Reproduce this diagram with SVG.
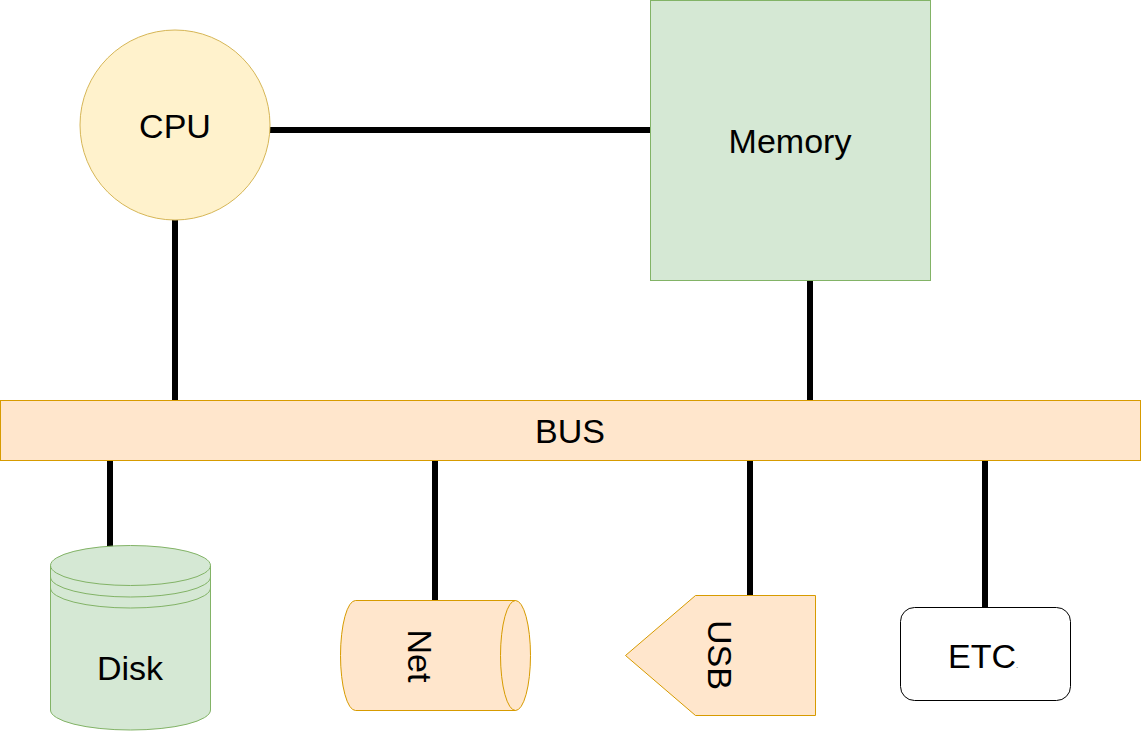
<svg xmlns="http://www.w3.org/2000/svg" width="1141" height="731" viewBox="0 0 1141 731">
<style>
.t{font-family:"Liberation Sans",Arial,sans-serif;font-size:34px;fill:#000;text-anchor:middle}
.c{stroke:#000;stroke-width:6;fill:none}
.g{fill:#d5e8d4;stroke:#82b366;stroke-width:1}
.o{fill:#ffe6cc;stroke:#d79b00;stroke-width:1}
.y{fill:#fff2cc;stroke:#d6b656;stroke-width:1}
</style>
<rect width="1141" height="731" fill="#fff"/>
<g id="connectors">
<line class="c" x1="270" y1="130" x2="653" y2="130"/>
<line class="c" x1="175" y1="220" x2="175" y2="403"/>
<line class="c" x1="810" y1="280" x2="810" y2="400"/>
<line class="c" x1="110" y1="460" x2="110" y2="547"/>
<line class="c" x1="435" y1="460" x2="435" y2="600"/>
<line class="c" x1="750" y1="460" x2="750" y2="600"/>
<line class="c" x1="985" y1="460" x2="985" y2="610"/>
</g>
<g id="cpu">
<circle class="y" cx="175" cy="125" r="95"/>
<text class="t" x="175" y="138">CPU</text>
</g>
<g id="memory">
<rect class="g" x="650.5" y="0.5" width="280" height="280"/>
<text class="t" x="790" y="153">Memory</text>
</g>
<g id="bus">
<rect class="o" x="0.5" y="400.5" width="1140" height="60"/>
<text class="t" x="570" y="443">BUS</text>
</g>
<g id="disk">
<path class="g" d="M50.5,565.5 A80,20 0 0 1 210.5,565.5 L210.5,710 A80,20 0 0 1 50.5,710 Z"/>
<path fill="none" stroke="#82b366" d="M50.5,565.5 A80,20 0 0 0 210.5,565.5 M50.5,577 A80,20 0 0 0 210.5,577 M50.5,588 A80,20 0 0 0 210.5,588"/>
<text class="t" x="130" y="680">Disk</text>
</g>
<g id="net">
<path class="o" d="M355.5,600.5 L515.5,600.5 A15,55 0 0 1 515.5,710.5 L355.5,710.5 A15,55 0 0 1 355.5,600.5 Z"/>
<path fill="none" stroke="#d79b00" d="M515.5,600.5 A15,55 0 0 0 515.5,710.5"/>
<text class="t" transform="translate(408,656) rotate(90)" x="0" y="0">Net</text>
</g>
<g id="usb">
<polygon class="o" points="695.5,595.5 815.5,595.5 815.5,715.5 695.5,715.5 625.5,655.5"/>
<text class="t" transform="translate(708,655) rotate(90)" x="0" y="0">USB</text>
</g>
<g id="etc">
<rect x="900.5" y="607.5" width="170" height="93" rx="14" fill="#fff" stroke="#000" stroke-width="1"/>
<text x="948" y="668" style="font-family:'Liberation Sans',Arial,sans-serif;font-size:34px;fill:#000">ETC<tspan style="font-size:8px;fill:#555">.</tspan></text>
</g>
</svg>
